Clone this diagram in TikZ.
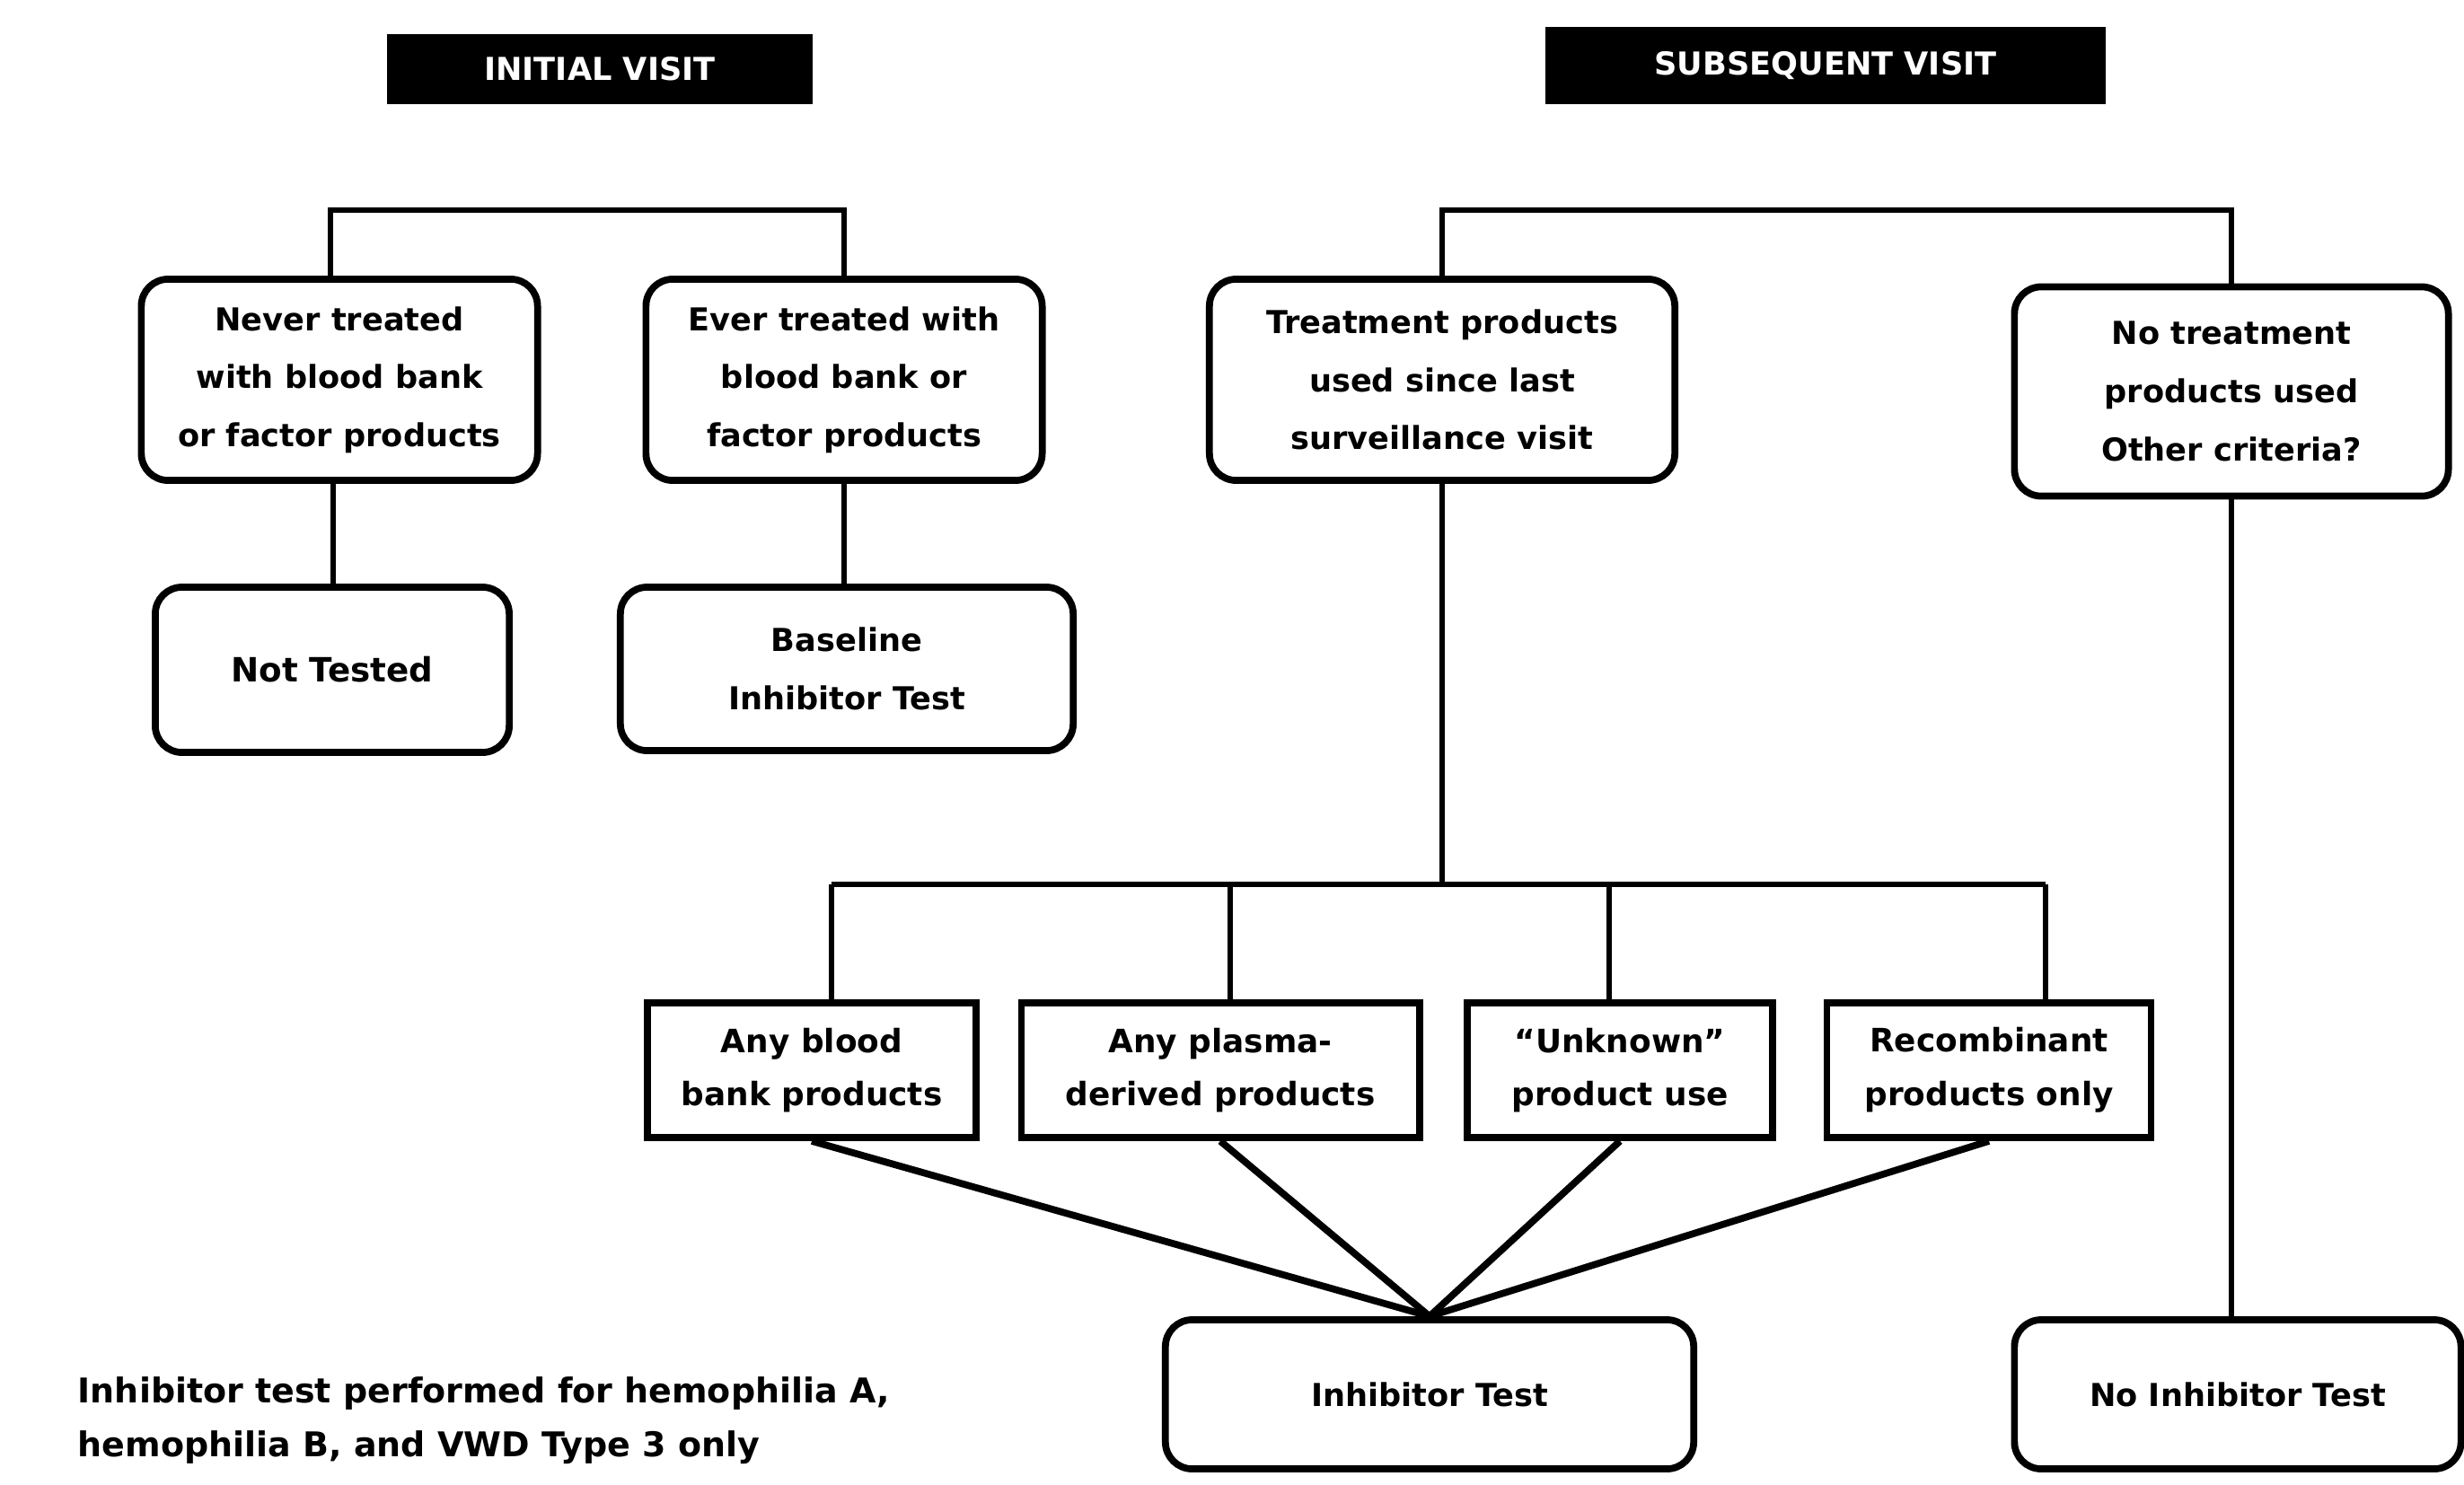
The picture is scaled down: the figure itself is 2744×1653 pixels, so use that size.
\documentclass[tikz,border=0pt]{standalone}
\usepackage{fontspec}
\setmainfont{DejaVu Sans}
\usetikzlibrary{positioning}
\tikzset{
  every picture/.style={line width=1.6pt},
  box/.style={draw, rounded corners=8.5pt, line width=2.2pt, align=center, inner sep=3pt,
              font=\bfseries\fontsize{10}{18.4}\selectfont},
  sqbox/.style={draw, line width=2.2pt, align=center, inner sep=3pt, minimum height=1.5cm,
                font=\bfseries\fontsize{10.2}{17}\selectfont},
  banner/.style={fill=black, text=white, font=\bfseries\fontsize{10}{12}\selectfont},
  note/.style={anchor=west, align=left, inner sep=0pt, font=\bfseries\fontsize{10.8}{17}\selectfont},
  link/.style={line width=1.6pt},
  feed/.style={line width=2.2pt},
}

\begin{document}
\begin{tikzpicture}[x=0.01cm, y=-0.01cm]
  \useasboundingbox (0,0) rectangle (2744,1653);
  % headers
  \node[banner, minimum width=4.73cm, minimum height=0.78cm] (initial) at (668,77) {INITIAL VISIT};
  \node[banner, minimum width=6.23cm, minimum height=0.85cm] (subseq) at (2033,73) {SUBSEQUENT VISIT};
  % initial visit
  \node[box, minimum width=4.41cm, minimum height=2.24cm] (never) at (378,423) {Never treated\\with blood bank\\or factor products};
  \node[box, minimum width=4.41cm, minimum height=2.24cm] (ever) at (940,423) {Ever treated with\\blood bank or\\factor products};
  \node[box, minimum width=3.94cm, minimum height=1.84cm, font=\bfseries\fontsize{10.6}{14}\selectfont] (nottested) at (370,746) {Not Tested};
  \node[box, minimum width=5.04cm, minimum height=1.82cm] (baseline) at (943,745) {Baseline\\Inhibitor Test};
  % subsequent visit
  \node[box, minimum width=5.18cm, minimum height=2.24cm] (treated) at (1606,423) {Treatment products\\used since last\\surveillance visit};
  \node[box, minimum width=4.83cm, minimum height=2.33cm] (untreated) at (2485,436) {No treatment\\products used\\Other criteria?};
  \node[sqbox, minimum width=3.66cm] (blood) at (904,1192) {Any blood\\bank products};
  \node[sqbox, minimum width=4.43cm] (plasma) at (1359,1192) {Any plasma-\\derived products};
  \node[sqbox, minimum width=3.40cm] (unknown) at (1804,1192) {“Unknown”\\product use};
  \node[sqbox, minimum width=3.61cm] (recomb) at (2215,1192) {Recombinant\\products only};
  \node[box, minimum width=5.88cm, minimum height=1.66cm] (inhib) at (1592,1553) {Inhibitor Test};
  \node[box, minimum width=4.97cm, minimum height=1.66cm] (noinhib) at (2492,1553) {No Inhibitor Test};
  \node[note] (footnote) at (84,1582) {Inhibitor test performed for hemophilia A,\\hemophilia B, and VWD Type 3 only};
  % connectors
  \coordinate (bar) at (0,234);
  \coordinate (bus) at (0,985);
  \coordinate (d1) at (926,985);
  \coordinate (d2) at (1370,985);
  \coordinate (d3) at (1792,985);
  \coordinate (d4) at (2278,985);
  \draw[link] ([xshift=-0.1cm]never.north) -- ([xshift=-0.1cm]never.north |- bar) -| (ever.north);
  \draw[link] (treated.north) -- (treated.north |- bar) -| (untreated.north);
  \draw[link] ([xshift=-0.07cm]never.south) -- ([xshift=-0.07cm]never.south |- nottested.north);
  \draw[link] (ever.south) -- (ever.south |- baseline.north);
  \draw[link] (untreated.south) -- (untreated.south |- noinhib.north);
  \draw[link] (treated.south) -- (treated.south |- bus);
  \draw[link] (d1) -- (d4);
  \foreach \d/\b in {d1/blood, d2/plasma, d3/unknown, d4/recomb}
    \draw[link] (\d) -- (\d |- \b.north);
  \foreach \b in {blood, plasma, unknown, recomb}
    \draw[feed] (\b.south) -- (inhib.north);
\end{tikzpicture}
\end{document}
